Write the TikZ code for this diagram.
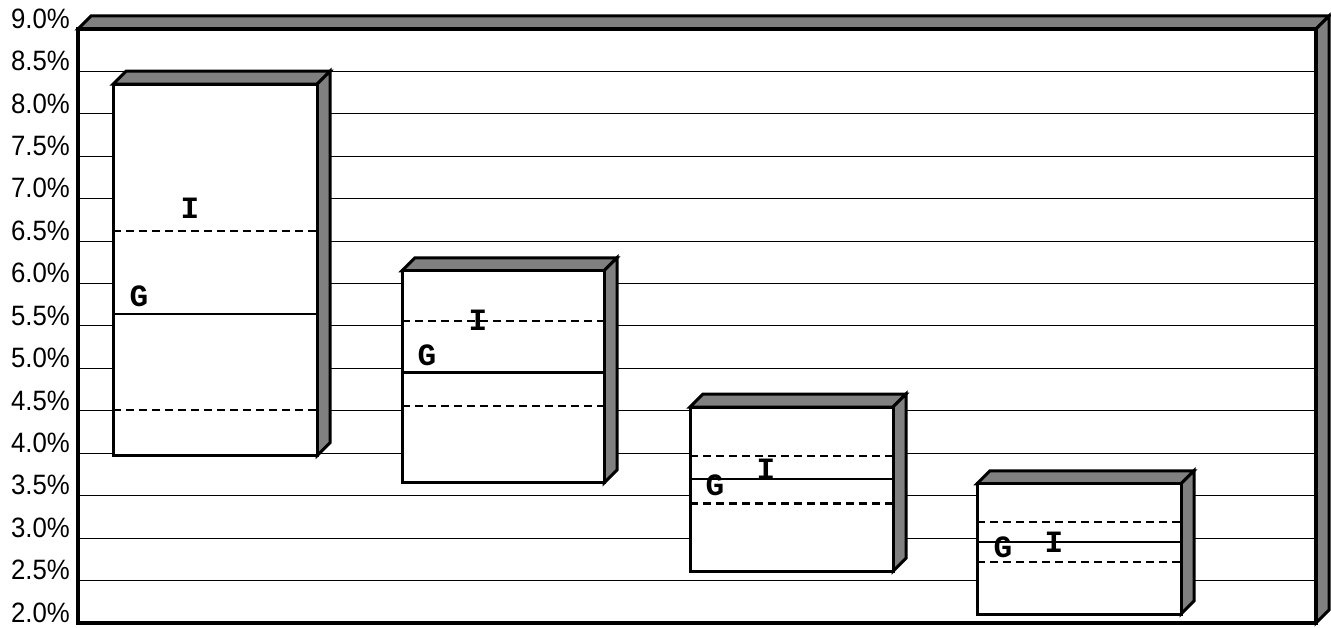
\documentclass[tikz,border=0pt]{standalone}
\usepackage{fontspec}
\setmainfont{Liberation Sans}
\newfontfamily\codefont{Liberation Mono}
\def\dep{13pt}
% x1, x2, bottom, top, upper dashed, solid, lower dashed
\newcommand{\drawbar}[7]{%
  \draw[face] (#1,#4) -- ++(\dep,\dep) -- ([shift={(\dep,\dep)}]#2,#4) -- (#2,#4) -- cycle;
  \draw[face] (#2,#4) -- ++(\dep,\dep) -- ([shift={(\dep,\dep)}]#2,#3) -- (#2,#3) -- cycle;
  \draw[front] (#1,#3) rectangle (#2,#4);
  \draw[band] (#1,#5) -- (#2,#5);
  \draw[mid] (#1,#6) -- (#2,#6);
  \draw[band] (#1,#7) -- (#2,#7);
}

\begin{document}
\begin{tikzpicture}[x=1pt, y=84.857pt]
			\tikzstyle{face}=[fill=black!50, draw=black, line width=3pt]
			\tikzstyle{front}=[fill=white, draw=black, line width=3pt]
			\tikzstyle{grid}=[draw=black, line width=1pt]
			\tikzstyle{band}=[draw=black, line width=2.4pt, dash pattern=on 8pt off 5pt]
			\tikzstyle{mid}=[draw=black, line width=2.4pt]
			\tikzstyle{tag}=[font=\codefont\bfseries\fontsize{31}{31}\selectfont, inner sep=0pt]
			\tikzstyle{pct}=[font=\fontsize{28}{28}\selectfont, xscale=0.92, anchor=base east, inner sep=0pt]
			
			\useasboundingbox (0,1.9529) rectangle (1331,9.3418);
			
			% Draw the frame
			\draw[face] (78,9) -- ++(\dep,\dep) -- ([shift={(\dep,\dep)}]1316,9) -- (1316,9) -- cycle;
			\draw[face] (1316,9) -- ++(\dep,\dep) -- ([shift={(\dep,\dep)}]1316,2) -- (1316,2) -- cycle;
			\fill[white] (78,2) rectangle (1316,9);
			\foreach \v in {2.5,3.0,...,8.5}
				\draw[grid] (78,\v) -- (1316,\v);
			\draw[front, fill=none, line width=3.2pt] (78,2) rectangle (1316,9);
			
			% Axis labels
			\foreach \v/\t [count=\i] in {2.0/2.0,2.5/2.5,3.0/3.0,3.5/3.5,4.0/4.0,4.5/4.5,5.0/5.0,5.5/5.5,6.0/6.0,6.5/6.5,7.0/7.0,7.5/7.5,8.0/8.0,8.5/8.5,9.0/9.0}
				\node[pct] (ax\i) at (70,\v+0.01) {\t\%};
			
			% Draw the bars
			\drawbar{113}{317}{3.97}{8.35}{6.62}{5.64}{4.51}
			\drawbar{402}{604}{3.65}{6.15}{5.56}{4.95}{4.56}
			\drawbar{690}{893}{2.61}{4.545}{3.97}{3.70}{3.41}
			\drawbar{977}{1181}{2.105}{3.64}{3.19}{2.955}{2.72}
			
			% Labels
			\node[tag] (i1) at (190,6.887) {I};
			\node[tag] (g1) at (139,5.856) {G};
			\node[tag] (i2) at (478,5.562) {I};
			\node[tag] (g2) at (427,5.155) {G};
			\node[tag] (i3) at (766,3.811) {I};
			\node[tag] (g3) at (715,3.623) {G};
			\node[tag] (i4) at (1054,2.949) {I};
			\node[tag] (g4) at (1003,2.890) {G};
			
		\end{tikzpicture}
\end{document}
